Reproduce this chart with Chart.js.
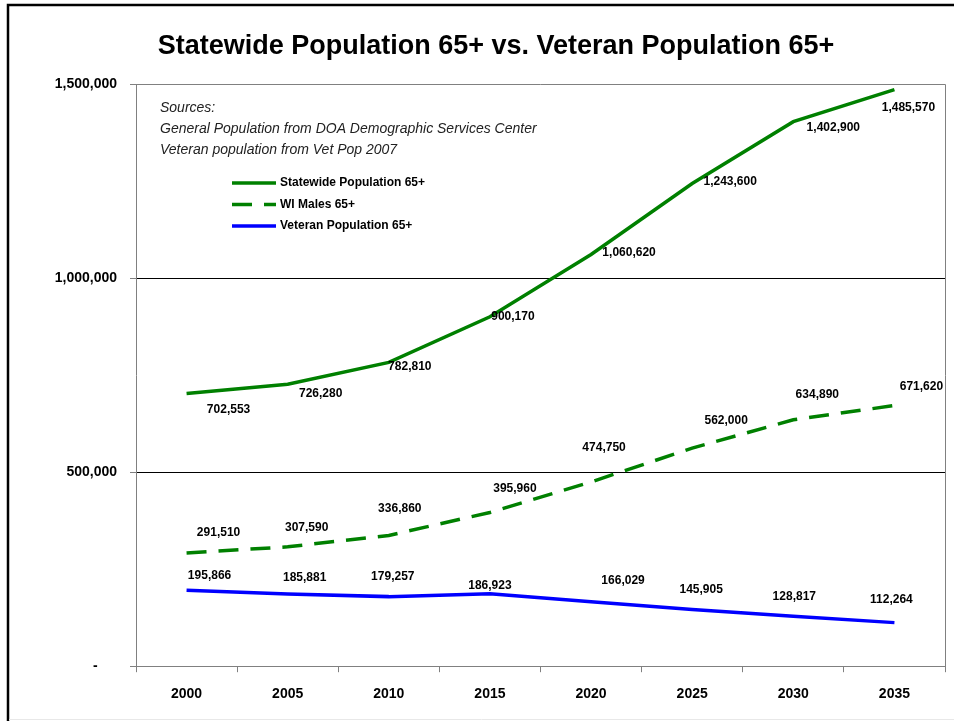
<!DOCTYPE html>
<html>
<head>
<meta charset="utf-8">
<script src="https://cdn.jsdelivr.net/npm/chart.js@4"></script>
<style>
  html, body { margin: 0; padding: 0; background: #fff; }
  #wrap { width: 954px; height: 721px; position: relative; }
</style>
</head>
<body>
<div id="wrap"><canvas id="pop65"></canvas></div>
<script>
// years on the x axis
const years = ['2000', '2005', '2010', '2015', '2020', '2025', '2030', '2035'];

// series values
const statewide = [702553, 726280, 782810, 900170, 1060620, 1243600, 1402900, 1485570];
const wiMales = [291510, 307590, 336860, 395960, 474750, 562000, 634890, 671620];
const veterans = [195866, 185881, 179257, 186923, 166029, 145905, 128817, 112264];

// y axis ticks
const yTicks = [0, 500000, 1000000, 1500000];

// where each value label sits relative to its point (px)
const statewideShift = [[42, 16], [33, 9], [21, 4], [23, 0], [38, -2], [38, -2], [40, 6], [14, 18]];
const wiMalesShift = [[32, -20], [19, -19], [11, -27], [25, -24], [13, -34], [34, -27], [24, -25], [27, -19]];
const veteransShift = [[23, -14], [17, -16], [4, -20], [0, -8], [32, -21], [9, -20], [1, -20], [-3, -23]];

const title = 'Statewide Population 65+ vs. Veteran Population 65+';
const sources = [
  'Sources:',
  'General Population from DOA Demographic Services Center',
  'Veteran population from Vet Pop 2007'
];

const FONT = '"Liberation Sans", Arial, sans-serif';
const fmt = v => v.toLocaleString('en-US');

// frame, title, plot box, sources note, legend and value labels
const decor = {
  id: 'decor',
  beforeDatasetsDraw(chart) {
    const { ctx, chartArea: a } = chart;
    ctx.save();
    ctx.strokeStyle = '#808080';
    ctx.lineWidth = 1;
    ctx.beginPath();
    ctx.moveTo(a.left, a.top + 0.5);
    ctx.lineTo(a.right + 0.5, a.top + 0.5);
    ctx.lineTo(a.right + 0.5, a.bottom);
    ctx.stroke();
    ctx.restore();
  },
  afterDatasetsDraw(chart) {
    const { ctx } = chart;
    ctx.save();

    // outer frame
    ctx.strokeStyle = '#000';
    ctx.lineWidth = 2.5;
    ctx.beginPath();
    ctx.moveTo(8, 721);
    ctx.lineTo(8, 5);
    ctx.lineTo(954, 5);
    ctx.stroke();
    ctx.strokeStyle = '#e8e8e8';
    ctx.lineWidth = 1;
    ctx.beginPath();
    ctx.moveTo(9, 719.5);
    ctx.lineTo(954, 719.5);
    ctx.stroke();

    // title
    ctx.fillStyle = '#000';
    ctx.font = 'bold 27px ' + FONT;
    ctx.textAlign = 'center';
    ctx.textBaseline = 'middle';
    ctx.fillText(title, 496, 47);

    // sources note
    ctx.fillStyle = '#222';
    ctx.font = 'italic 14px ' + FONT;
    ctx.textAlign = 'left';
    sources.forEach((s, i) => ctx.fillText(s, 160, 108 + i * 21));

    // legend
    ctx.font = 'bold 12px ' + FONT;
    chart.data.datasets.forEach((ds, i) => {
      const y = 183 + i * 21.5;
      ctx.strokeStyle = ds.borderColor;
      ctx.lineWidth = 3.5;
      ctx.setLineDash(ds.borderDash || []);
      ctx.beginPath();
      ctx.moveTo(232, y);
      ctx.lineTo(276, y);
      ctx.stroke();
      ctx.setLineDash([]);
      ctx.fillStyle = '#000';
      ctx.fillText(ds.label, 280, y);
    });

    // value labels
    ctx.font = 'bold 12px ' + FONT;
    ctx.textAlign = 'center';
    ctx.fillStyle = '#000';
    chart.data.datasets.forEach((ds, i) => {
      const meta = chart.getDatasetMeta(i);
      meta.data.forEach((pt, j) => {
        const [dx, dy] = ds.labelShift[j];
        ctx.fillText(fmt(ds.data[j]), pt.x + dx, pt.y + dy);
      });
    });
    ctx.restore();
  }
};

new Chart(document.getElementById('pop65'), {
  type: 'line',
  data: {
    labels: years,
    datasets: [
      {
        label: 'Statewide Population 65+',
        data: statewide,
        borderColor: '#008000',
        borderWidth: 3.5,
        labelShift: statewideShift
      },
      {
        label: 'WI Males 65+',
        data: wiMales,
        borderColor: '#008000',
        borderWidth: 3.5,
        borderDash: [20, 12],
        labelShift: wiMalesShift
      },
      {
        label: 'Veteran Population 65+',
        data: veterans,
        borderColor: '#0000ff',
        borderWidth: 3.5,
        labelShift: veteransShift
      }
    ]
  },
  options: {
    responsive: true,
    maintainAspectRatio: false,
    animation: false,
    devicePixelRatio: 1,
    layout: { padding: { top: 84, right: 9, bottom: 4, left: 0 } },
    elements: { point: { radius: 0 }, line: { tension: 0 } },
    plugins: {
      legend: { display: false },
      tooltip: { enabled: false },
      title: { display: false }
    },
    scales: {
      x: {
        offset: true,
        grid: {
          offset: true,
          drawOnChartArea: false,
          tickLength: 6,
          tickColor: '#808080'
        },
        border: { color: '#808080' },
        ticks: {
          color: '#000',
          padding: 14,
          font: { family: FONT, size: 14, weight: 'bold' }
        }
      },
      y: {
        min: 0,
        max: 1500000,
        afterBuildTicks(scale) {
          scale.ticks = yTicks.map(v => ({ value: v }));
        },
        afterFit(scale) { scale.width = 136; },
        grid: {
          color: c => (c.tick && (c.tick.value === 0 || c.tick.value === 1500000)) ? 'rgba(0,0,0,0)' : '#000',
          tickColor: '#808080',
          tickLength: 6
        },
        border: { color: '#808080' },
        ticks: {
          color: '#000',
          padding: 13,
          font: { family: FONT, size: 14, weight: 'bold' },
          callback: v => v === 0 ? '-     ' : fmt(v)
        }
      }
    }
  },
  plugins: [decor]
});
</script>
</body>
</html>
